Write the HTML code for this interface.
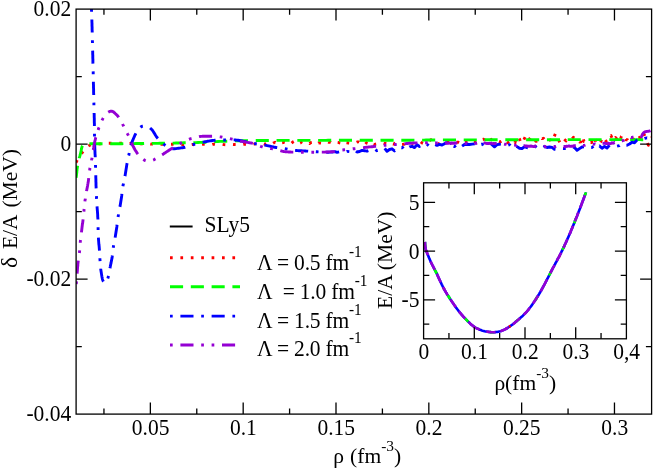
<!DOCTYPE html>
<html><head><meta charset="utf-8"><title>plot</title>
<style>
html,body{margin:0;padding:0;background:#fff;}
svg{display:block;}
text{font-family:"Liberation Serif",serif;font-size:21.5px;fill:#000;}
.c{fill:none;stroke-width:2.9;stroke-linejoin:round;}
.i{stroke-width:2.6;}
</style></head><body>
<svg width="654" height="470" viewBox="0 0 654 470">
<rect width="654" height="470" fill="#fff"/>
<defs><clipPath id="cp"><rect x="76.1" y="9.1" width="575.5" height="405.0"/></clipPath></defs>
<g clip-path="url(#cp)">
<path class="c" stroke="#ff0000" stroke-dasharray="2.7 7.7" d="M76.1,162.5 L76.4,161.9 L76.7,161.3 L77.0,160.6 L77.3,160.0 L77.6,159.5 L78.0,158.9 L78.3,158.3 L78.7,157.7 L79.1,157.1 L79.4,156.6 L79.8,156.0 L80.2,155.5 L80.6,154.9 L81.0,154.4 L81.4,153.8 L81.8,153.3 L82.2,152.7 L82.6,152.2 L83.0,151.6 L83.4,151.1 L83.8,150.5 L84.2,150.0 L84.7,149.5 L85.1,148.9 L85.6,148.4 L86.0,147.9 L86.5,147.5 L87.0,147.0 L87.6,146.6 L88.1,146.2 L88.7,145.8 L89.3,145.5 L89.9,145.2 L90.5,145.0 L91.2,144.8 L91.9,144.7 L92.6,144.6 L93.3,144.6 L94.0,144.7 L95.0,144.6 L96.5,144.4 L98.0,144.2 L99.5,143.9 L101.0,143.7 L102.5,143.4 L104.0,143.1 L105.5,143.1 L107.0,143.2 L108.5,143.2 L110.0,143.2 L111.5,143.2 L113.0,143.2 L114.5,143.3 L116.0,143.1 L117.5,143.1 L119.0,143.1 L120.5,143.2 L122.0,143.3 L123.5,143.3 L125.0,143.5 L126.5,143.4 L128.0,143.4 L129.5,143.4 L131.0,143.3 L132.5,143.4 L134.0,143.5 L135.5,143.4 L137.0,143.7 L138.5,143.6 L140.0,143.7 L141.5,143.8 L143.0,144.0 L144.5,144.0 L146.0,143.8 L147.5,143.7 L149.0,143.9 L150.5,144.1 L152.0,144.0 L153.5,144.0 L155.0,144.0 L156.5,143.8 L158.0,143.9 L159.5,144.0 L161.0,144.2 L162.5,144.2 L164.0,144.1 L165.5,144.2 L167.0,144.2 L168.5,144.3 L170.0,144.3 L171.5,144.3 L173.0,144.3 L174.5,144.5 L176.0,144.5 L177.5,144.5 L179.0,144.5 L180.5,144.4 L182.0,144.5 L183.5,144.5 L185.0,144.5 L186.5,144.4 L188.0,144.4 L189.5,144.7 L191.0,144.8 L192.5,144.5 L194.0,144.5 L195.5,144.5 L197.0,144.6 L198.5,144.6 L200.0,144.5 L201.5,144.1 L203.0,144.2 L204.5,144.3 L206.0,144.4 L207.5,144.3 L209.0,144.4 L210.5,144.7 L212.0,144.7 L213.5,144.1 L215.0,144.3 L216.5,144.5 L218.0,144.5 L219.5,144.4 L221.0,144.2 L222.5,144.3 L224.0,144.6 L225.5,144.7 L227.0,144.5 L228.5,144.4 L230.0,144.4 L231.5,144.5 L233.0,144.6 L234.5,144.5 L236.0,144.4 L237.5,144.4 L239.0,144.3 L240.5,144.7 L242.0,144.7 L243.5,144.3 L245.0,144.4 L246.5,144.4 L248.0,144.8 L249.5,144.9 L251.0,144.6 L252.5,144.7 L254.0,144.2 L255.5,143.9 L257.0,143.8 L258.5,143.8 L260.0,143.8 L261.5,143.7 L263.0,143.5 L264.5,144.0 L266.0,144.0 L267.5,142.9 L269.0,142.5 L270.5,143.6 L272.0,144.0 L273.5,143.0 L275.0,142.3 L276.5,143.3 L278.0,143.7 L279.5,142.2 L281.0,142.9 L282.5,142.7 L284.0,142.4 L285.5,142.8 L287.0,142.2 L288.5,143.2 L290.0,144.0 L291.5,143.2 L293.0,141.9 L294.5,141.1 L296.0,141.1 L297.5,141.6 L299.0,143.6 L300.5,142.9 L302.0,141.7 L303.5,141.4 L305.0,141.7 L306.5,142.1 L308.0,142.3 L309.5,143.6 L311.0,142.5 L312.5,142.2 L314.0,143.3 L315.5,144.4 L317.0,144.1 L318.5,142.9 L320.0,143.0 L321.5,143.2 L323.0,143.4 L324.5,143.0 L326.0,141.9 L327.5,141.7 L329.0,142.4 L330.5,142.4 L332.0,143.6 L333.5,143.0 L335.0,142.0 L336.5,142.2 L338.0,142.4 L339.5,142.9 L341.0,143.2 L342.5,141.5 L344.0,141.1 L345.5,142.6 L347.0,142.8 L348.5,143.0 L350.0,143.2 L351.5,143.0 L353.0,143.2 L354.5,142.4 L356.0,142.5 L357.5,141.9 L359.0,141.9 L360.5,143.2 L362.0,142.9 L363.5,141.2 L365.0,141.5 L366.5,143.1 L368.0,143.6 L369.5,142.5 L371.0,142.1 L372.5,142.3 L374.0,144.6 L375.5,144.1 L377.0,143.8 L378.5,143.8 L380.0,143.9 L381.5,143.5 L383.0,142.9 L384.5,143.4 L386.0,143.4 L387.5,143.7 L389.0,142.4 L390.5,142.4 L392.0,143.5 L393.5,144.1 L395.0,143.1 L396.5,142.2 L398.0,142.4 L399.5,142.9 L401.0,144.5 L402.5,144.4 L404.0,144.2 L405.5,143.2 L407.0,142.7 L408.5,144.1 L410.0,144.7 L411.5,143.7 L413.0,143.2 L414.5,143.5 L416.0,142.9 L417.5,143.0 L419.0,141.9 L420.5,141.6 L422.0,142.9 L423.5,143.6 L425.0,144.3 L426.5,142.8 L428.0,142.0 L429.5,140.7 L431.0,139.6 L432.5,140.1 L434.0,141.8 L435.5,141.6 L437.0,143.5 L438.5,144.0 L440.0,143.0 L441.5,143.9 L443.0,143.3 L444.5,143.3 L446.0,142.6 L447.5,142.7 L449.0,141.6 L450.5,142.2 L452.0,141.6 L453.5,141.9 L455.0,142.6 L456.5,142.3 L458.0,142.1 L459.5,142.9 L461.0,142.5 L462.5,140.7 L464.0,142.1 L465.5,142.4 L467.0,141.2 L468.5,141.3 L470.0,140.7 L471.5,142.7 L473.0,141.8 L474.5,141.8 L476.0,142.9 L477.5,142.0 L479.0,141.6 L480.5,140.0 L482.0,139.5 L483.5,139.1 L485.0,140.1 L486.5,142.7 L488.0,142.4 L489.5,142.1 L491.0,139.6 L492.5,139.0 L494.0,140.2 L495.5,141.9 L497.0,141.9 L498.5,141.5 L500.0,141.9 L501.5,141.1 L503.0,141.6 L504.5,142.9 L506.0,140.7 L507.5,141.9 L509.0,144.0 L510.5,142.5 L512.0,141.8 L513.5,141.4 L515.0,142.7 L516.5,136.8 L518.0,136.2 L519.5,138.9 L521.0,143.6 L522.5,142.4 L524.0,139.5 L525.5,136.3 L527.0,140.6 L528.5,140.6 L530.0,138.2 L531.5,136.2 L533.0,137.4 L534.5,140.4 L536.0,141.4 L537.5,140.8 L539.0,139.0 L540.5,136.7 L542.0,138.6 L543.5,138.3 L545.0,140.1 L546.5,140.9 L548.0,138.6 L549.5,138.4 L551.0,142.0 L552.5,141.4 L554.0,137.1 L555.5,133.5 L557.0,138.5 L558.5,139.8 L560.0,142.6 L561.5,139.2 L563.0,138.1 L564.5,139.5 L566.0,140.9 L567.5,138.3 L569.0,138.5 L570.5,138.4 L572.0,139.0 L573.5,137.3 L575.0,139.5 L576.5,139.2 L578.0,139.7 L579.5,142.0 L581.0,141.8 L582.5,136.3 L584.0,141.5 L585.5,141.8 L587.0,140.9 L588.5,143.1 L590.0,142.5 L591.5,142.6 L593.0,139.1 L594.5,136.5 L596.0,143.7 L597.5,144.8 L599.0,143.6 L600.5,142.1 L602.0,138.7 L603.5,136.6 L605.0,139.7 L606.5,141.8 L608.0,136.7 L609.5,136.2 L611.0,135.5 L612.5,139.5 L614.0,141.1 L615.5,137.6 L617.0,139.2 L618.5,142.6 L620.0,139.9 L621.5,136.2 L623.0,134.7 L624.5,135.2 L626.0,139.7 L627.5,139.7 L629.0,142.5 L630.5,142.3 L632.0,138.9 L633.5,139.0 L635.0,141.6 L636.5,141.3 L638.0,139.7 L639.5,137.4 L641.0,140.4 L642.5,137.3 L644.0,134.1 L645.5,137.6 L647.0,142.5 L648.5,145.2 L650.0,140.2 L651.5,137.2"/>
<path class="c" stroke="#00ff00" stroke-dasharray="13.1 7.7" stroke-dashoffset="1" d="M76.1,177.8 L76.2,177.1 L76.3,176.5 L76.4,175.8 L76.5,175.1 L76.5,174.4 L76.6,173.8 L76.7,173.1 L76.8,172.4 L76.8,171.8 L76.9,171.1 L77.0,170.4 L77.0,169.7 L77.1,169.1 L77.2,168.4 L77.3,167.7 L77.4,167.1 L77.5,166.4 L77.6,165.7 L77.7,165.1 L77.8,164.4 L77.9,163.7 L78.1,163.1 L78.2,162.4 L78.3,161.7 L78.5,161.1 L78.7,160.4 L78.8,159.8 L79.0,159.1 L79.2,158.5 L79.3,157.8 L79.5,157.2 L79.7,156.5 L79.9,155.9 L80.1,155.2 L80.2,154.6 L80.4,153.9 L80.6,153.3 L80.7,152.6 L80.9,152.0 L81.0,151.3 L81.2,150.6 L81.3,149.9 L81.4,149.2 L81.6,148.5 L81.7,147.9 L81.9,147.2 L82.1,146.6 L82.4,146.0 L82.8,145.4 L83.2,144.9 L83.7,144.5 L84.3,144.1 L84.9,143.8 L85.6,143.6 L86.3,143.4 L87.0,143.4 L87.7,143.4 L88.3,143.5 L89.0,143.8 L90.0,143.8 L92.0,143.8 L94.0,143.8 L96.0,143.8 L98.0,143.8 L100.0,143.8 L102.0,143.8 L104.0,143.8 L106.0,143.7 L108.0,143.7 L110.0,143.7 L112.0,143.7 L114.0,143.7 L116.0,143.7 L118.0,143.7 L120.0,143.7 L122.0,143.7 L124.0,143.6 L126.0,143.6 L128.0,143.6 L130.0,143.6 L132.0,143.6 L134.0,143.6 L136.0,143.5 L138.0,143.5 L140.0,143.5 L142.0,143.5 L144.0,143.5 L146.0,143.4 L148.0,143.4 L150.0,143.4 L152.0,143.4 L154.0,143.4 L156.0,143.4 L158.0,143.4 L160.0,143.3 L162.0,143.3 L164.0,143.3 L166.0,143.3 L168.0,143.2 L170.0,143.2 L172.0,143.1 L174.0,143.1 L176.0,143.0 L178.0,143.0 L180.0,142.9 L182.0,142.9 L184.0,142.8 L186.0,142.8 L188.0,142.7 L190.0,142.7 L192.0,142.7 L194.0,142.6 L196.0,142.6 L198.0,142.5 L200.0,142.4 L202.0,142.4 L204.0,142.3 L206.0,142.2 L208.0,142.1 L210.0,142.0 L212.0,141.8 L214.0,141.7 L216.0,141.6 L218.0,141.5 L220.0,141.4 L222.0,141.4 L224.0,141.3 L226.0,141.2 L228.0,141.1 L230.0,141.0 L232.0,140.9 L234.0,140.9 L236.0,140.8 L238.0,140.7 L240.0,140.7 L242.0,140.7 L244.0,140.6 L246.0,140.6 L248.0,140.6 L250.0,140.6 L252.0,140.6 L254.0,140.5 L256.0,140.5 L258.0,140.5 L260.0,140.5 L262.0,140.5 L264.0,140.5 L266.0,140.5 L268.0,140.5 L270.0,140.5 L272.0,140.5 L274.0,140.5 L276.0,140.4 L278.0,140.4 L280.0,140.4 L282.0,140.4 L284.0,140.4 L286.0,140.4 L288.0,140.4 L290.0,140.4 L292.0,140.4 L294.0,140.4 L296.0,140.4 L298.0,140.4 L300.0,140.4 L302.0,140.4 L304.0,140.4 L306.0,140.4 L308.0,140.4 L310.0,140.4 L312.0,140.4 L314.0,140.4 L316.0,140.4 L318.0,140.4 L320.0,140.4 L322.0,140.4 L324.0,140.4 L326.0,140.4 L328.0,140.3 L330.0,140.3 L332.0,140.3 L334.0,140.3 L336.0,140.3 L338.0,140.3 L340.0,140.3 L342.0,140.3 L344.0,140.3 L346.0,140.3 L348.0,140.3 L350.0,140.3 L352.0,140.3 L354.0,140.3 L356.0,140.3 L358.0,140.3 L360.0,140.3 L362.0,140.3 L364.0,140.3 L366.0,140.3 L368.0,140.3 L370.0,140.3 L372.0,140.3 L374.0,140.3 L376.0,140.3 L378.0,140.3 L380.0,140.3 L382.0,140.2 L384.0,140.2 L386.0,140.2 L388.0,140.2 L390.0,140.2 L392.0,140.2 L394.0,140.2 L396.0,140.2 L398.0,140.2 L400.0,140.2 L402.0,140.2 L404.0,140.2 L406.0,140.2 L408.0,140.2 L410.0,140.2 L412.0,140.1 L414.0,140.1 L416.0,140.1 L418.0,140.1 L420.0,140.1 L422.0,140.1 L424.0,140.1 L426.0,140.0 L428.0,140.0 L430.0,140.0 L432.0,140.0 L434.0,140.0 L436.0,140.0 L438.0,140.0 L440.0,139.9 L442.0,139.9 L444.0,139.9 L446.0,139.9 L448.0,139.9 L450.0,139.9 L452.0,139.9 L454.0,139.9 L456.0,139.9 L458.0,139.9 L460.0,139.9 L462.0,139.9 L464.0,139.9 L466.0,139.9 L468.0,139.9 L470.0,139.9 L472.0,139.9 L474.0,139.9 L476.0,139.9 L478.0,139.9 L480.0,139.9 L482.0,139.8 L484.0,139.8 L486.0,139.8 L488.0,139.8 L490.0,139.8 L492.0,139.8 L494.0,139.8 L496.0,139.8 L498.0,139.8 L500.0,139.8 L502.0,139.8 L504.0,139.8 L506.0,139.8 L508.0,139.8 L510.0,139.8 L512.0,139.8 L514.0,139.8 L516.0,139.8 L518.0,139.8 L520.0,139.8 L522.0,139.8 L524.0,139.8 L526.0,139.8 L528.0,139.8 L530.0,139.8 L532.0,139.8 L534.0,139.8 L536.0,139.7 L538.0,139.7 L540.0,139.7 L542.0,139.7 L544.0,139.7 L546.0,139.7 L548.0,139.7 L550.0,139.7 L552.0,139.7 L554.0,139.7 L556.0,139.7 L558.0,139.7 L560.0,139.6 L562.0,139.6 L564.0,139.6 L566.0,139.6 L568.0,139.6 L570.0,139.6 L572.0,139.6 L574.0,139.6 L576.0,139.6 L578.0,139.6 L580.0,139.6 L582.0,139.6 L584.0,139.6 L586.0,139.6 L588.0,139.6 L590.0,139.6 L592.0,139.6 L594.0,139.6 L596.0,139.6 L598.0,139.6 L600.0,139.6 L602.0,139.6 L604.0,139.6 L606.0,139.6 L608.0,139.6 L610.0,139.6 L612.0,139.6 L614.0,139.6 L616.0,139.6 L618.0,139.6 L620.0,139.6 L622.0,139.6 L624.0,139.6 L626.0,139.6 L628.0,139.6 L630.0,139.6 L632.0,139.6 L634.0,139.6 L636.0,139.6 L638.0,139.6 L640.0,139.6 L642.0,139.7 L644.0,139.7 L646.0,139.7 L648.0,139.7 L650.0,139.7"/>
<path class="c" stroke="#0000ff" stroke-dasharray="2.7 7.7 13.1 7.7" d="M91.5,9.1 L91.5,10.4 L91.6,11.7 L91.6,13.0 L91.7,14.2 L91.7,15.5 L91.8,16.8 L91.8,18.1 L91.8,19.4 L91.9,20.7 L91.9,22.0 L92.0,23.3 L92.0,24.5 L92.0,25.8 L92.1,27.1 L92.1,28.4 L92.1,29.7 L92.2,31.0 L92.2,32.3 L92.2,33.6 L92.3,34.8 L92.3,36.1 L92.3,37.4 L92.4,38.7 L92.4,40.0 L92.4,41.3 L92.5,42.6 L92.5,43.8 L92.5,45.1 L92.5,46.4 L92.6,47.7 L92.6,49.0 L92.6,50.3 L92.7,51.6 L92.7,52.9 L92.7,54.1 L92.8,55.4 L92.8,56.7 L92.8,58.0 L92.9,59.3 L92.9,60.6 L92.9,61.9 L92.9,63.2 L93.0,64.4 L93.0,65.7 L93.0,67.0 L93.1,68.3 L93.1,69.6 L93.1,70.9 L93.2,72.2 L93.2,73.4 L93.2,74.7 L93.3,76.0 L93.3,77.3 L93.3,78.6 L93.4,79.9 L93.4,81.2 L93.4,82.5 L93.4,83.7 L93.5,85.0 L93.5,86.3 L93.5,87.6 L93.6,88.9 L93.6,90.2 L93.6,91.5 L93.6,92.8 L93.7,94.0 L93.7,95.3 L93.7,96.6 L93.8,97.9 L93.8,99.2 L93.8,100.5 L93.8,101.8 L93.9,103.1 L93.9,104.3 L93.9,105.6 L94.0,106.9 L94.0,108.2 L94.0,109.5 L94.1,110.8 L94.1,112.1 L94.1,113.3 L94.2,114.6 L94.2,115.9 L94.2,117.2 L94.3,118.5 L94.3,119.8 L94.3,121.1 L94.3,122.4 L94.4,123.6 L94.4,124.9 L94.4,126.2 L94.4,127.5 L94.4,128.8 L94.5,130.1 L94.5,131.4 L94.5,132.7 L94.5,133.9 L94.5,135.2 L94.5,136.5 L94.6,137.8 L94.6,139.1 L94.6,140.4 L94.6,141.7 L94.7,143.0 L94.7,144.2 L94.7,145.5 L94.8,146.8 L94.8,148.1 L94.9,149.4 L94.9,150.7 L95.0,152.0 L95.0,153.2 L95.1,154.5 L95.2,155.8 L95.2,157.1 L95.3,158.4 L95.3,159.7 L95.3,161.0 L95.4,162.3 L95.4,163.5 L95.5,164.8 L95.5,166.1 L95.6,167.4 L95.6,168.7 L95.6,170.0 L95.7,171.3 L95.7,172.5 L95.7,173.8 L95.8,175.1 L95.8,176.4 L95.8,177.7 L95.9,179.0 L95.9,180.3 L95.9,181.6 L96.0,182.8 L96.0,184.1 L96.0,185.4 L96.1,186.7 L96.1,188.0 L96.2,189.3 L96.2,190.6 L96.2,191.9 L96.3,193.1 L96.4,194.4 L96.4,195.7 L96.5,197.0 L96.5,198.3 L96.6,199.6 L96.7,200.9 L96.8,202.1 L96.9,203.4 L96.9,204.7 L97.0,206.0 L97.1,207.3 L97.2,208.6 L97.3,209.8 L97.4,211.1 L97.5,212.4 L97.6,213.7 L97.7,215.0 L97.7,216.3 L97.8,217.6 L97.9,218.8 L97.9,220.1 L98.0,221.4 L98.0,222.7 L98.0,224.0 L98.0,225.3 L98.1,226.6 L98.1,227.8 L98.1,229.1 L98.1,230.4 L98.2,231.7 L98.2,233.0 L98.2,234.3 L98.3,235.6 L98.3,236.9 L98.4,238.1 L98.5,239.4 L98.6,240.7 L98.7,242.0 L98.8,243.3 L98.9,244.6 L99.1,245.8 L99.2,247.1 L99.3,248.4 L99.4,249.7 L99.5,251.0 L99.6,252.3 L99.7,253.5 L99.7,254.8 L99.8,256.1 L99.9,257.4 L99.9,258.7 L100.0,260.0 L100.1,261.2 L100.2,262.5 L100.2,263.8 L100.4,265.1 L100.5,266.4 L100.6,267.7 L100.7,268.9 L100.9,270.2 L101.1,271.5 L101.3,272.8 L101.5,274.1 L101.7,275.4 L101.9,276.6 L102.2,277.9 L102.4,279.1 L102.8,280.3 L103.3,281.5 L104.2,282.7 L105.2,282.9 L106.2,282.0 L106.9,280.7 L107.5,279.5 L107.8,278.4 L108.2,277.2 L108.4,276.0 L108.7,274.7 L109.0,273.5 L109.2,272.2 L109.4,270.9 L109.7,269.6 L109.9,268.3 L110.2,267.0 L110.4,265.8 L110.7,264.5 L111.0,263.2 L111.2,262.0 L111.5,260.7 L111.7,259.5 L112.0,258.2 L112.2,256.9 L112.3,255.7 L112.5,254.4 L112.7,253.1 L112.8,251.8 L112.9,250.6 L113.1,249.3 L113.2,248.0 L113.4,246.7 L113.6,245.4 L113.8,244.2 L114.1,242.9 L114.3,241.7 L114.6,240.4 L114.8,239.1 L115.1,237.9 L115.3,236.6 L115.5,235.3 L115.7,234.1 L115.9,232.8 L116.1,231.5 L116.3,230.2 L116.5,229.0 L116.7,227.7 L116.9,226.4 L117.0,225.1 L117.2,223.9 L117.3,222.6 L117.5,221.3 L117.7,220.0 L117.8,218.8 L118.0,217.5 L118.2,216.2 L118.4,214.9 L118.6,213.7 L118.9,212.4 L119.1,211.1 L119.4,209.9 L119.6,208.6 L119.8,207.3 L120.1,206.1 L120.3,204.8 L120.5,203.5 L120.7,202.3 L120.9,201.0 L121.1,199.7 L121.3,198.5 L121.5,197.2 L121.7,195.9 L121.8,194.6 L122.0,193.3 L122.2,192.1 L122.3,190.8 L122.5,189.5 L122.6,188.2 L122.8,187.0 L123.0,185.7 L123.3,184.4 L123.5,183.2 L123.8,181.9 L124.0,180.6 L124.3,179.4 L124.6,178.1 L124.8,176.9 L125.1,175.6 L125.3,174.3 L125.5,173.1 L125.7,171.8 L125.9,170.5 L126.1,169.2 L126.3,168.0 L126.5,166.7 L126.7,165.4 L126.9,164.2 L127.2,162.9 L127.4,161.6 L127.7,160.4 L127.9,159.1 L128.2,157.9 L128.5,156.6 L128.8,155.3 L129.0,154.1 L129.3,152.8 L129.5,151.5 L129.8,150.3 L130.1,149.0 L130.3,147.8 L130.7,146.5 L131.0,145.3 L131.4,144.0 L131.8,142.8 L132.2,141.6 L132.7,140.4 L133.2,139.2 L133.7,138.0 L134.2,136.9 L134.7,135.7 L135.3,134.5 L135.9,133.4 L136.4,132.2 L137.1,131.1 L137.8,130.0 L138.5,129.0 L139.4,128.0 L140.4,127.2 L141.5,126.5 L142.7,126.1 L144.0,126.0 L145.3,126.1 L146.6,126.4 L147.8,126.9 L149.0,127.4 L150.1,128.0 L151.0,128.8 L151.9,129.7 L152.7,130.7 L153.4,131.8 L154.1,132.9 L154.8,134.0 L155.5,135.2 L156.2,136.3 L157.0,137.4 L157.7,138.4 L158.6,139.4 L159.5,140.4 L160.4,141.2 L161.4,142.1 L162.3,143.0 L163.3,143.8 L164.3,144.7 L165.2,145.5 L166.2,146.3 L167.3,147.1 L168.4,147.7 L169.6,148.2 L170.9,148.5 L172.2,148.7 L173.4,148.7 L174.7,148.7 L176.0,148.6 L177.3,148.4 L178.6,148.2 L179.9,148.1 L181.1,147.9 L182.4,147.7 L183.7,147.5 L184.9,147.3 L186.2,146.9 L187.4,146.6 L188.6,146.2 L189.9,145.8 L191.1,145.3 L192.3,144.9 L193.5,144.5 L194.7,144.1 L196.0,143.7 L197.2,143.4 L198.5,143.1 L199.7,142.8 L201.0,142.6 L202.3,142.3 L203.5,142.1 L204.8,141.8 L206.1,141.6 L207.3,141.3 L208.6,141.1 L209.9,140.9 L211.1,140.7 L212.4,140.5 L213.7,140.4 L215.0,140.3 L216.2,140.2 L217.5,140.1 L218.8,140.1 L220.1,140.0 L221.4,140.0 L222.7,140.0 L224.0,140.0 L225.3,140.0 L226.5,140.0 L227.8,139.9 L229.1,139.9 L230.4,139.9 L231.7,139.8 L233.0,139.9 L234.3,139.9 L235.5,140.0 L236.8,140.1 L238.1,140.3 L239.4,140.5 L240.6,140.7 L241.9,140.9 L243.2,141.2 L244.5,141.4 L245.7,141.7 L247.0,142.0 L248.2,142.3 L249.5,142.6 L250.7,142.8 L252.0,143.1 L253.3,143.4 L254.5,143.6 L255.8,143.8 L257.1,144.0 L258.3,144.2 L259.6,144.4 L260.9,144.5 L262.2,144.7 L263.4,144.9 L264.7,145.1 L266.0,145.4 L267.2,145.6 L268.5,145.9 L269.8,146.2 L271.0,146.5 L272.3,146.8 L273.5,147.0 L274.8,147.3 L276.1,147.5 L277.3,147.7 L278.6,147.9 L279.9,148.0 L281.2,148.2 L282.4,148.3 L283.7,148.5 L285.0,148.7 L286.3,148.9 L287.5,149.1 L288.8,149.4 L290.1,149.6 L291.3,149.8 L292.6,150.0 L293.9,150.2 L295.1,150.4 L296.4,150.5 L297.7,150.6 L299.0,150.7 L300.3,150.8 L301.6,150.8 L302.8,150.9 L304.1,150.9 L305.4,151.0 L306.7,151.1 L308.0,151.1 L309.3,151.2 L310.6,151.3 L311.9,151.4 L313.1,151.5 L314.4,151.6 L315.7,151.7 L317.0,151.8 L318.3,151.9 L319.6,152.0 L320.8,152.0 L322.1,152.1 L323.4,152.2 L324.7,152.2 L326.0,152.2 L327.3,152.2 L328.5,152.2 L329.8,152.1 L331.1,152.1 L332.4,152.0 L333.7,151.9 L335.0,151.7 L337.0,152.4 L339.5,151.8 L342.0,152.1 L344.5,152.3 L347.0,151.4 L349.5,151.7 L352.0,151.4 L354.5,149.8 L357.0,152.0 L359.5,151.5 L362.0,150.4 L364.5,150.7 L367.0,151.2 L369.5,150.3 L372.0,150.2 L374.5,148.9 L377.0,150.7 L379.5,150.2 L382.0,150.1 L384.5,148.2 L387.0,151.2 L389.5,149.5 L392.0,148.8 L394.5,150.9 L397.0,148.7 L399.5,147.2 L402.0,147.9 L404.5,145.8 L407.0,148.6 L409.5,146.9 L412.0,146.3 L414.5,147.6 L417.0,144.8 L419.5,146.5 L422.0,143.9 L424.5,145.0 L427.0,144.2 L429.5,146.5 L432.0,146.5 L434.5,144.4 L437.0,145.4 L439.5,144.3 L442.0,145.0 L444.5,143.7 L447.0,142.7 L449.5,142.6 L452.0,144.7 L454.5,146.6 L457.0,144.6 L459.5,143.7 L462.0,146.2 L464.5,144.5 L467.0,144.3 L469.5,144.5 L472.0,144.1 L474.5,143.9 L477.0,142.7 L479.5,144.7 L482.0,144.1 L484.5,145.6 L487.0,144.0 L489.5,142.4 L492.0,144.6 L494.5,146.8 L497.0,144.6 L499.5,144.2 L502.0,144.1 L504.5,144.4 L507.0,145.5 L509.5,144.6 L512.0,147.9 L514.5,145.9 L517.0,146.6 L519.5,148.3 L522.0,148.6 L524.5,146.7 L527.0,147.5 L529.5,148.1 L532.0,147.1 L534.5,145.3 L537.0,148.3 L539.5,148.7 L542.0,148.1 L544.5,146.6 L547.0,147.5 L549.5,147.0 L552.0,147.4 L554.5,149.3 L557.0,149.6 L559.5,148.6 L562.0,148.5 L564.5,148.6 L567.0,147.7 L569.5,147.6 L572.0,146.9 L574.5,147.6 L577.0,150.3 L579.5,148.6 L582.0,147.0 L584.5,146.8 L587.0,146.2 L589.5,147.6 L592.0,147.5 L594.5,145.2 L597.0,147.4 L599.5,145.9 L602.0,148.2 L604.5,146.4 L607.0,147.9 L609.5,145.2 L612.0,145.1 L614.5,145.6 L617.0,146.2 L619.5,145.6 L622.0,143.8 L624.5,145.3 L627.0,145.2 L629.5,144.0 L632.0,142.2 L634.5,142.8 L637.0,140.0 L639.5,138.9 L642.0,139.5 L644.5,138.4 L647.0,137.8 L649.5,138.2"/>
<path class="c" stroke="#9400d3" stroke-dasharray="2.7 7.7 13.1 7.7 2.7 7.7" d="M76.2,284.0 L76.3,283.2 L76.4,282.3 L76.5,281.5 L76.6,280.6 L76.7,279.8 L76.7,279.0 L76.8,278.1 L76.9,277.3 L76.9,276.4 L77.0,275.6 L77.1,274.7 L77.1,273.9 L77.2,273.0 L77.2,272.2 L77.3,271.4 L77.4,270.5 L77.4,269.7 L77.5,268.8 L77.5,268.0 L77.6,267.1 L77.7,266.3 L77.8,265.5 L77.8,264.6 L77.9,263.8 L78.0,262.9 L78.1,262.1 L78.2,261.3 L78.3,260.4 L78.4,259.6 L78.5,258.7 L78.7,257.9 L78.8,257.1 L78.9,256.2 L79.0,255.4 L79.2,254.6 L79.3,253.7 L79.4,252.9 L79.5,252.0 L79.6,251.2 L79.7,250.4 L79.8,249.5 L79.8,248.7 L79.9,247.8 L80.0,247.0 L80.0,246.1 L80.1,245.3 L80.2,244.5 L80.2,243.6 L80.3,242.8 L80.3,241.9 L80.4,241.1 L80.5,240.2 L80.6,239.4 L80.7,238.6 L80.8,237.7 L80.9,236.9 L81.0,236.0 L81.1,235.2 L81.2,234.4 L81.3,233.5 L81.4,232.7 L81.5,231.8 L81.6,231.0 L81.7,230.2 L81.8,229.3 L81.9,228.5 L82.0,227.6 L82.1,226.8 L82.2,226.0 L82.3,225.1 L82.4,224.3 L82.6,223.4 L82.7,222.6 L82.8,221.8 L82.9,220.9 L83.0,220.1 L83.1,219.2 L83.2,218.4 L83.3,217.6 L83.3,216.7 L83.4,215.9 L83.5,215.0 L83.6,214.2 L83.7,213.4 L83.8,212.5 L83.9,211.7 L84.0,210.8 L84.0,210.0 L84.1,209.2 L84.2,208.3 L84.3,207.5 L84.4,206.6 L84.5,205.8 L84.6,204.9 L84.6,204.1 L84.7,203.3 L84.8,202.4 L84.9,201.6 L85.0,200.7 L85.1,199.9 L85.3,199.1 L85.4,198.2 L85.5,197.4 L85.6,196.6 L85.8,195.7 L85.9,194.9 L86.0,194.1 L86.2,193.2 L86.3,192.4 L86.5,191.6 L86.6,190.7 L86.8,189.9 L86.9,189.1 L87.1,188.2 L87.3,187.4 L87.4,186.6 L87.6,185.7 L87.7,184.9 L87.8,184.1 L88.0,183.2 L88.1,182.4 L88.3,181.6 L88.4,180.7 L88.5,179.9 L88.6,179.0 L88.7,178.2 L88.8,177.4 L88.9,176.5 L89.0,175.7 L89.1,174.8 L89.2,174.0 L89.3,173.2 L89.4,172.3 L89.5,171.5 L89.6,170.6 L89.7,169.8 L89.8,169.0 L89.9,168.1 L90.1,167.3 L90.2,166.5 L90.4,165.6 L90.6,164.8 L90.8,164.0 L90.9,163.2 L91.1,162.3 L91.3,161.5 L91.5,160.7 L91.6,159.8 L91.8,159.0 L92.0,158.2 L92.1,157.4 L92.2,156.5 L92.4,155.7 L92.5,154.8 L92.6,154.0 L92.8,153.2 L92.9,152.3 L93.0,151.5 L93.1,150.7 L93.3,149.8 L93.4,149.0 L93.5,148.2 L93.7,147.3 L93.8,146.5 L94.0,145.7 L94.1,144.8 L94.3,144.0 L94.4,143.2 L94.6,142.3 L94.8,141.5 L95.0,140.7 L95.2,139.9 L95.4,139.0 L95.6,138.2 L95.8,137.4 L96.1,136.6 L96.3,135.8 L96.5,135.0 L96.8,134.2 L97.0,133.3 L97.3,132.5 L97.5,131.7 L97.8,130.9 L98.1,130.1 L98.4,129.3 L98.6,128.5 L98.9,127.7 L99.2,127.0 L99.5,126.2 L99.8,125.4 L100.1,124.6 L100.5,123.8 L100.8,123.0 L101.1,122.2 L101.5,121.5 L101.8,120.7 L102.2,119.9 L102.6,119.2 L103.0,118.4 L103.4,117.7 L103.8,117.0 L104.3,116.2 L104.8,115.5 L105.3,114.9 L105.8,114.2 L106.4,113.6 L107.0,113.0 L107.7,112.5 L108.4,112.1 L109.2,111.7 L110.0,111.4 L110.8,111.2 L111.7,111.2 L112.4,111.4 L113.2,111.8 L113.9,112.3 L114.6,112.9 L115.2,113.5 L115.9,114.1 L116.5,114.7 L117.1,115.3 L117.7,116.0 L118.2,116.6 L118.7,117.2 L119.2,117.9 L119.7,118.6 L120.2,119.3 L120.6,120.0 L121.0,120.7 L121.4,121.5 L121.8,122.2 L122.1,123.0 L122.5,123.8 L122.8,124.6 L123.2,125.3 L123.6,126.1 L123.9,126.9 L124.3,127.6 L124.7,128.4 L125.1,129.2 L125.5,129.9 L125.9,130.7 L126.2,131.4 L126.6,132.2 L127.0,132.9 L127.4,133.7 L127.8,134.4 L128.2,135.2 L128.5,135.9 L128.9,136.7 L129.2,137.5 L129.6,138.2 L129.9,139.0 L130.2,139.8 L130.6,140.6 L130.9,141.3 L131.2,142.1 L131.6,142.9 L131.9,143.7 L132.3,144.5 L132.6,145.2 L133.0,146.0 L133.4,146.8 L133.8,147.5 L134.2,148.3 L134.6,149.0 L135.0,149.8 L135.4,150.5 L135.9,151.2 L136.4,151.9 L136.8,152.6 L137.3,153.3 L137.8,154.0 L138.3,154.6 L138.9,155.3 L139.4,155.9 L140.0,156.5 L140.6,157.1 L141.2,157.7 L141.9,158.3 L142.5,158.8 L143.2,159.3 L143.9,159.8 L144.6,160.3 L145.4,160.6 L146.2,160.9 L147.0,161.1 L147.9,161.3 L148.7,161.3 L149.6,161.2 L150.4,161.1 L151.3,160.9 L152.1,160.7 L152.8,160.3 L153.6,160.0 L154.3,159.6 L155.1,159.1 L155.8,158.7 L156.5,158.2 L157.3,157.8 L158.0,157.3 L158.7,156.9 L159.4,156.4 L160.1,156.0 L160.9,155.6 L161.6,155.1 L162.3,154.7 L163.0,154.2 L163.7,153.8 L164.4,153.3 L165.1,152.8 L165.8,152.4 L166.5,151.9 L167.2,151.4 L167.9,151.0 L168.6,150.5 L169.3,150.0 L170.1,149.6 L170.8,149.1 L171.5,148.6 L172.2,148.2 L172.9,147.7 L173.6,147.3 L174.3,146.8 L175.0,146.4 L175.8,145.9 L176.5,145.5 L177.2,145.1 L178.0,144.7 L178.7,144.2 L179.4,143.8 L180.2,143.4 L180.9,143.0 L181.7,142.7 L182.5,142.3 L183.2,141.9 L184.0,141.5 L184.7,141.2 L185.5,140.8 L186.3,140.5 L187.1,140.1 L187.8,139.8 L188.6,139.5 L189.4,139.2 L190.2,138.9 L191.0,138.6 L191.8,138.4 L192.6,138.1 L193.4,137.9 L194.3,137.6 L195.1,137.4 L195.9,137.2 L196.7,137.1 L197.6,136.9 L198.4,136.8 L199.2,136.6 L200.1,136.5 L200.9,136.4 L201.8,136.4 L202.6,136.3 L203.4,136.3 L204.3,136.2 L205.1,136.2 L206.0,136.2 L206.8,136.2 L207.7,136.2 L208.5,136.2 L209.4,136.2 L210.2,136.3 L211.1,136.3 L211.9,136.3 L212.8,136.3 L213.6,136.4 L214.4,136.4 L215.3,136.5 L216.1,136.5 L217.0,136.6 L217.8,136.7 L218.7,136.7 L219.5,136.8 L220.3,136.9 L221.2,137.0 L222.0,137.1 L222.9,137.3 L223.7,137.4 L224.5,137.5 L225.4,137.7 L226.2,137.9 L227.0,138.0 L227.8,138.2 L228.7,138.4 L229.5,138.6 L230.3,138.8 L231.1,138.9 L232.0,139.1 L232.8,139.3 L233.6,139.6 L234.4,139.8 L235.3,140.0 L236.1,140.2 L236.9,140.4 L237.7,140.5 L238.5,140.7 L239.4,140.9 L240.2,141.1 L241.0,141.3 L241.9,141.4 L242.7,141.6 L243.5,141.7 L244.4,141.9 L245.2,142.0 L246.0,142.1 L246.9,142.3 L247.7,142.4 L248.6,142.6 L249.4,142.7 L250.2,142.9 L251.0,143.0 L251.9,143.2 L252.7,143.4 L253.5,143.6 L254.3,143.9 L255.1,144.1 L255.9,144.4 L256.7,144.7 L257.5,145.0 L258.3,145.4 L259.1,145.7 L259.9,146.0 L260.6,146.3 L261.4,146.6 L262.2,146.9 L263.0,147.2 L263.8,147.4 L264.7,147.6 L265.5,147.7 L266.3,147.9 L267.2,148.0 L268.0,148.1 L268.8,148.2 L269.7,148.3 L270.5,148.5 L271.4,148.6 L272.2,148.7 L273.0,148.8 L273.9,149.0 L274.7,149.2 L275.5,149.4 L276.3,149.6 L277.1,149.8 L278.0,150.1 L278.8,150.3 L279.6,150.5 L280.4,150.7 L281.2,151.0 L282.1,151.1 L282.9,151.3 L283.7,151.5 L284.5,151.6 L285.4,151.7 L286.2,151.8 L287.1,151.9 L287.9,151.9 L288.7,152.0 L289.6,152.0 L290.4,152.0 L291.3,152.1 L292.1,152.1 L293.0,152.1 L293.8,152.1 L294.7,152.1 L295.5,152.1 L296.4,152.1 L297.2,152.1 L298.1,152.1 L298.9,152.2 L299.8,152.2 L300.6,152.2 L301.5,152.2 L302.3,152.2 L303.2,152.2 L304.0,152.2 L304.8,152.2 L305.7,152.2 L306.5,152.2 L307.4,152.2 L308.2,152.2 L309.1,152.2 L309.9,152.2 L310.8,152.2 L311.6,152.2 L312.5,152.2 L313.3,152.2 L314.1,152.2 L315.0,152.2 L315.8,152.2 L316.7,152.2 L317.5,152.2 L318.4,152.2 L319.2,152.2 L320.1,152.1 L320.9,152.1 L321.8,152.1 L322.6,152.1 L323.4,152.1 L324.3,152.1 L325.1,152.1 L326.0,152.0 L326.8,152.0 L327.7,152.0 L328.5,151.9 L329.4,151.9 L330.2,151.9 L331.1,151.8 L331.9,151.7 L332.8,151.7 L333.6,151.6 L334.4,151.5 L335.3,151.3 L336.1,151.2 L336.9,151.1 L337.8,150.9 L338.6,150.8 L339.4,150.6 L340.3,150.5 L341.1,150.3 L341.9,150.1 L342.8,150.0 L343.6,149.8 L344.4,149.7 L345.3,149.6 L346.1,149.4 L346.9,149.3 L347.8,149.3 L348.6,149.2 L349.5,149.1 L350.3,149.0 L351.1,148.9 L352.0,148.9 L352.8,148.8 L353.7,148.7 L354.5,148.7 L355.4,148.6 L356.2,148.5 L357.0,148.4 L357.9,148.3 L358.7,148.2 L359.6,148.1 L360.4,148.0 L361.2,147.9 L362.1,147.8 L362.9,147.7 L363.8,147.6 L364.6,147.5 L365.4,147.4 L366.3,147.3 L367.1,147.2 L368.0,147.1 L368.8,147.0 L369.6,146.9 L370.5,146.9 L371.3,146.8 L372.2,146.7 L373.0,146.6 L373.9,146.5 L374.7,146.4 L375.5,146.3 L376.4,146.2 L377.2,146.1 L378.1,146.0 L378.9,145.9 L379.7,145.8 L380.6,145.7 L381.4,145.6 L382.3,145.5 L383.1,145.4 L383.9,145.3 L384.8,145.3 L385.6,145.2 L386.5,145.1 L387.3,145.0 L388.1,145.0 L389.0,144.9 L389.8,144.9 L390.7,144.8 L391.5,144.7 L392.4,144.7 L393.2,144.6 L394.1,144.6 L394.9,144.5 L395.7,144.5 L396.6,144.4 L397.4,144.3 L398.3,144.3 L399.1,144.2 L400.0,144.1 L400.8,144.1 L401.6,144.0 L402.5,143.9 L403.3,143.8 L404.2,143.8 L405.0,143.7 L405.9,143.6 L406.7,143.5 L407.5,143.5 L408.4,143.4 L409.2,143.3 L410.1,143.3 L410.9,143.2 L411.8,143.1 L412.6,143.1 L413.4,143.0 L414.3,143.0 L415.1,142.9 L416.0,142.9 L416.8,142.9 L417.7,142.9 L418.5,142.9 L419.4,142.8 L420.2,142.9 L421.1,142.9 L421.9,143.0 L422.7,142.9 L423.6,142.7 L424.4,142.8 L425.3,142.8 L426.1,142.9 L427.0,142.7 L427.8,142.6 L428.7,143.0 L429.5,142.7 L430.4,142.6 L431.2,143.1 L432.1,142.9 L432.9,143.1 L433.7,142.9 L434.6,142.8 L435.4,142.8 L436.3,143.0 L437.1,143.0 L438.0,142.9 L438.8,143.0 L439.7,142.8 L440.5,143.1 L441.4,142.8 L442.2,143.1 L443.0,143.3 L443.9,143.4 L444.7,143.5 L445.6,142.8 L446.4,143.3 L447.3,143.4 L448.1,143.4 L449.0,143.0 L449.8,143.2 L450.7,143.5 L451.5,142.9 L452.4,143.3 L453.2,143.4 L454.0,143.0 L454.9,143.3 L455.7,143.0 L456.6,143.0 L457.4,143.0 L458.3,143.2 L459.1,143.2 L460.0,143.4 L460.8,143.0 L461.7,143.2 L462.5,143.4 L463.3,143.3 L464.2,143.0 L465.0,143.4 L465.9,143.1 L466.7,143.3 L467.6,143.3 L468.4,143.5 L469.3,143.3 L470.1,142.9 L471.0,143.0 L471.8,143.4 L472.6,143.2 L473.5,143.5 L474.3,143.3 L475.2,143.1 L476.0,143.5 L476.9,143.1 L477.7,142.9 L478.6,143.7 L479.4,142.9 L480.3,143.4 L481.1,143.5 L482.0,143.3 L482.8,143.0 L483.6,143.5 L484.5,143.0 L485.3,143.1 L486.2,143.3 L487.0,143.5 L487.9,143.4 L488.7,143.5 L489.6,143.3 L490.4,143.4 L491.3,143.2 L492.1,143.4 L493.0,143.6 L493.8,143.4 L494.6,143.6 L495.5,143.4 L496.3,143.5 L497.2,143.6 L498.0,143.6 L498.9,143.8 L499.7,143.8 L500.6,144.2 L501.4,143.9 L502.2,143.9 L503.1,143.8 L503.9,144.1 L504.8,144.3 L505.6,144.1 L506.5,144.3 L507.3,144.6 L508.1,144.5 L509.0,144.5 L509.8,144.9 L510.7,144.8 L511.5,144.9 L512.3,145.2 L513.2,145.3 L514.0,145.0 L514.9,145.1 L515.7,145.3 L516.6,145.3 L517.4,145.0 L518.2,145.7 L519.1,145.6 L519.9,145.8 L520.8,145.4 L521.6,146.0 L522.5,145.7 L523.3,145.8 L524.1,145.6 L525.0,145.9 L525.8,146.0 L526.7,146.0 L527.5,146.2 L528.4,146.1 L529.2,146.4 L530.1,146.1 L530.9,146.0 L531.8,146.3 L532.6,146.4 L533.4,146.6 L534.3,146.5 L535.1,146.0 L536.0,146.5 L536.8,146.7 L537.7,146.4 L538.5,146.3 L539.4,146.5 L540.2,146.4 L541.1,146.6 L541.9,146.5 L542.7,146.8 L543.6,146.6 L544.4,146.3 L545.3,146.6 L546.1,146.7 L547.0,146.4 L547.8,146.4 L548.7,146.0 L549.5,146.7 L550.4,146.4 L551.2,146.1 L552.1,146.1 L552.9,146.5 L553.7,146.6 L554.6,146.5 L555.4,146.6 L556.3,146.3 L557.1,146.2 L558.0,146.7 L558.8,146.6 L559.7,146.5 L560.5,146.7 L561.4,146.2 L562.2,146.3 L563.0,146.6 L563.9,146.8 L564.7,146.4 L565.6,146.7 L566.4,146.2 L567.3,146.4 L568.1,146.2 L569.0,145.9 L569.8,146.3 L570.7,146.4 L571.5,146.1 L572.3,146.1 L573.2,146.3 L574.0,145.8 L574.9,145.7 L575.7,145.8 L576.6,145.6 L577.4,146.1 L578.3,145.8 L579.1,145.5 L579.9,145.5 L580.8,146.1 L581.6,145.4 L582.5,145.3 L583.3,145.4 L584.2,145.4 L585.0,145.2 L585.8,144.9 L586.7,144.8 L587.5,145.1 L588.4,144.9 L589.2,144.5 L590.1,144.9 L590.9,144.8 L591.7,144.5 L592.6,144.4 L593.4,144.4 L594.3,144.1 L595.1,143.9 L595.9,144.2 L596.8,143.7 L597.6,144.0 L598.5,143.6 L599.3,143.8 L600.2,143.7 L601.0,144.0 L601.8,143.4 L602.7,143.3 L603.5,143.4 L604.4,143.3 L605.2,143.3 L606.1,143.5 L606.9,143.6 L607.8,143.7 L608.6,143.2 L609.5,143.9 L610.3,143.7 L611.2,143.3 L612.0,142.8 L612.9,143.2 L613.7,143.1 L614.5,142.5 L615.3,142.9 L616.2,142.6 L617.0,142.3 L617.8,142.4 L618.6,142.3 L619.4,141.7 L620.2,141.6 L621.0,141.1 L621.8,140.8 L622.6,140.7 L623.4,140.4 L624.2,139.9 L625.0,139.2 L625.8,139.4 L626.6,138.6 L627.4,138.6 L628.2,138.6 L629.0,138.0 L629.9,137.5 L630.7,137.2 L631.5,137.6 L632.3,137.2 L633.1,137.2 L633.9,137.2 L634.7,137.3 L635.5,137.4 L636.4,137.6 L637.3,137.9 L638.2,138.2 L639.1,138.4 L639.9,138.4 L640.5,138.0 L641.1,137.4 L641.5,136.6 L641.8,135.8 L642.2,135.0 L642.5,134.2 L643.0,133.5 L643.6,132.9 L644.2,132.3 L645.0,131.9 L645.7,131.6 L646.6,131.5 L647.4,131.4 L648.3,131.3 L649.1,131.1 L649.9,130.9 L650.7,130.5 L651.4,130.0"/>
</g>
<!-- inset curves -->
<g>
<path class="c i" stroke="#0000ff" d="M424.9,242.0 L425.0,243.0 L425.0,244.0 L425.1,244.9 L425.2,245.9 L425.3,246.9 L425.4,247.9 L425.6,248.8 L425.9,249.8 L426.2,250.7 L426.5,251.6 L426.9,252.5 L427.3,253.5 L427.7,254.4 L428.0,255.3 L428.4,256.2 L428.7,257.1 L429.1,258.0 L429.5,258.9 L429.9,259.8 L430.3,260.7 L430.7,261.6 L431.1,262.5 L431.5,263.4 L432.0,264.3 L432.4,265.1 L432.9,266.0 L433.3,266.9 L433.8,267.8 L434.2,268.6 L434.7,269.5 L435.1,270.4 L435.6,271.3 L436.0,272.1 L436.4,273.0 L436.9,273.9 L437.3,274.8 L437.7,275.7 L438.1,276.6 L438.5,277.5 L438.9,278.4 L439.3,279.3 L439.7,280.2 L440.2,281.1 L440.6,282.0 L441.0,282.8 L441.4,283.7 L441.8,284.6 L442.3,285.5 L442.7,286.4 L443.1,287.2 L443.6,288.1 L444.1,289.0 L444.5,289.8 L445.0,290.7 L445.5,291.5 L446.0,292.4 L446.5,293.2 L447.0,294.1 L447.5,294.9 L448.1,295.7 L448.6,296.6 L449.1,297.4 L449.7,298.2 L450.2,299.0 L450.8,299.8 L451.3,300.7 L451.9,301.5 L452.4,302.3 L453.0,303.1 L453.5,303.9 L454.1,304.7 L454.6,305.5 L455.2,306.4 L455.8,307.2 L456.3,307.9 L456.9,308.7 L457.5,309.5 L458.1,310.3 L458.7,311.1 L459.3,311.8 L459.9,312.6 L460.6,313.4 L461.2,314.1 L461.8,314.8 L462.5,315.6 L463.1,316.3 L463.8,317.0 L464.5,317.8 L465.2,318.5 L465.8,319.2 L466.5,319.9 L467.2,320.6 L467.9,321.3 L468.6,322.0 L469.3,322.7 L470.0,323.4 L470.7,324.1 L471.5,324.7 L472.2,325.3 L473.0,325.9 L473.8,326.5 L474.6,327.1 L475.4,327.6 L476.3,328.1 L477.2,328.5 L478.1,328.9 L479.0,329.3 L479.9,329.7 L480.8,330.0 L481.7,330.4 L482.7,330.7 L483.6,330.9 L484.6,331.2 L485.6,331.4 L486.5,331.6 L487.5,331.8 L488.5,331.9 L489.4,332.0 L490.4,332.1 L491.4,332.2 L492.4,332.2 L493.4,332.2 L494.4,332.2 L495.3,332.1 L496.3,332.0 L497.3,331.9 L498.3,331.7 L499.2,331.5 L500.2,331.3 L501.1,331.0 L502.1,330.6 L503.0,330.3 L503.9,329.9 L504.8,329.5 L505.6,329.0 L506.5,328.5 L507.4,328.0 L508.2,327.5 L509.0,327.0 L509.8,326.4 L510.6,325.9 L511.4,325.3 L512.2,324.7 L513.0,324.1 L513.8,323.5 L514.5,322.9 L515.3,322.2 L516.0,321.6 L516.8,321.0 L517.5,320.3 L518.3,319.7 L519.0,319.1 L519.8,318.4 L520.5,317.8 L521.3,317.1 L522.0,316.5 L522.7,315.8 L523.4,315.1 L524.1,314.4 L524.8,313.7 L525.5,313.0 L526.1,312.3 L526.8,311.6 L527.4,310.8 L528.1,310.1 L528.7,309.3 L529.3,308.5 L529.9,307.7 L530.5,307.0 L531.1,306.2 L531.7,305.4 L532.2,304.6 L532.8,303.8 L533.4,302.9 L533.9,302.1 L534.5,301.3 L535.0,300.5 L535.5,299.7 L536.1,298.9 L536.6,298.0 L537.1,297.2 L537.7,296.4 L538.2,295.5 L538.7,294.7 L539.2,293.9 L539.7,293.0 L540.2,292.2 L540.7,291.3 L541.2,290.5 L541.6,289.6 L542.1,288.8 L542.6,287.9 L543.1,287.0 L543.5,286.2 L544.0,285.3 L544.5,284.4 L544.9,283.6 L545.4,282.7 L545.8,281.8 L546.3,280.9 L546.7,280.1 L547.2,279.2 L547.6,278.3 L548.1,277.4 L548.5,276.6 L549.0,275.7 L549.4,274.8 L549.9,273.9 L550.3,273.1 L550.8,272.2 L551.2,271.3 L551.7,270.5 L552.1,269.6 L552.6,268.7 L553.0,267.8 L553.5,267.0 L554.0,266.1 L554.4,265.2 L554.9,264.4 L555.4,263.5 L555.8,262.7 L556.3,261.8 L556.8,260.9 L557.2,260.1 L557.7,259.2 L558.1,258.3 L558.6,257.5 L559.1,256.6 L559.5,255.7 L560.0,254.8 L560.4,254.0 L560.9,253.1 L561.3,252.2 L561.7,251.3 L562.2,250.5 L562.6,249.6 L563.0,248.7 L563.5,247.8 L563.9,246.9 L564.3,246.0 L564.7,245.1 L565.1,244.2 L565.5,243.4 L565.9,242.5 L566.3,241.6 L566.7,240.7 L567.1,239.8 L567.5,238.9 L567.9,238.0 L568.3,237.1 L568.7,236.2 L569.1,235.3 L569.5,234.4 L569.9,233.5 L570.3,232.6 L570.7,231.7 L571.0,230.7 L571.4,229.8 L571.8,228.9 L572.2,228.0 L572.6,227.1 L572.9,226.2 L573.3,225.3 L573.7,224.4 L574.0,223.5 L574.4,222.6 L574.8,221.7 L575.1,220.7 L575.5,219.8 L575.9,218.9 L576.2,218.0 L576.6,217.1 L577.0,216.2 L577.3,215.3 L577.7,214.4 L578.0,213.4 L578.4,212.5 L578.7,211.6 L579.1,210.7 L579.5,209.8 L579.8,208.9 L580.2,207.9 L580.5,207.0 L580.9,206.1 L581.2,205.2 L581.6,204.3 L581.9,203.4 L582.2,202.4 L582.6,201.5 L582.9,200.6 L583.3,199.7 L583.6,198.8 L584.0,197.8 L584.3,196.9 L584.6,196.0 L585.0,195.1 L585.3,194.1 L585.7,193.2 L586.0,192.3"/>
<path class="c i" stroke="#00ff00" stroke-dasharray="5 24" stroke-dashoffset="-29" d="M424.9,242.0 L425.0,243.0 L425.0,244.0 L425.1,244.9 L425.2,245.9 L425.3,246.9 L425.4,247.9 L425.6,248.8 L425.9,249.8 L426.2,250.7 L426.5,251.6 L426.9,252.5 L427.3,253.5 L427.7,254.4 L428.0,255.3 L428.4,256.2 L428.7,257.1 L429.1,258.0 L429.5,258.9 L429.9,259.8 L430.3,260.7 L430.7,261.6 L431.1,262.5 L431.5,263.4 L432.0,264.3 L432.4,265.1 L432.9,266.0 L433.3,266.9 L433.8,267.8 L434.2,268.6 L434.7,269.5 L435.1,270.4 L435.6,271.3 L436.0,272.1 L436.4,273.0 L436.9,273.9 L437.3,274.8 L437.7,275.7 L438.1,276.6 L438.5,277.5 L438.9,278.4 L439.3,279.3 L439.7,280.2 L440.2,281.1 L440.6,282.0 L441.0,282.8 L441.4,283.7 L441.8,284.6 L442.3,285.5 L442.7,286.4 L443.1,287.2 L443.6,288.1 L444.1,289.0 L444.5,289.8 L445.0,290.7 L445.5,291.5 L446.0,292.4 L446.5,293.2 L447.0,294.1 L447.5,294.9 L448.1,295.7 L448.6,296.6 L449.1,297.4 L449.7,298.2 L450.2,299.0 L450.8,299.8 L451.3,300.7 L451.9,301.5 L452.4,302.3 L453.0,303.1 L453.5,303.9 L454.1,304.7 L454.6,305.5 L455.2,306.4 L455.8,307.2 L456.3,307.9 L456.9,308.7 L457.5,309.5 L458.1,310.3 L458.7,311.1 L459.3,311.8 L459.9,312.6 L460.6,313.4 L461.2,314.1 L461.8,314.8 L462.5,315.6 L463.1,316.3 L463.8,317.0 L464.5,317.8 L465.2,318.5 L465.8,319.2 L466.5,319.9 L467.2,320.6 L467.9,321.3 L468.6,322.0 L469.3,322.7 L470.0,323.4 L470.7,324.1 L471.5,324.7 L472.2,325.3 L473.0,325.9 L473.8,326.5 L474.6,327.1 L475.4,327.6 L476.3,328.1 L477.2,328.5 L478.1,328.9 L479.0,329.3 L479.9,329.7 L480.8,330.0 L481.7,330.4 L482.7,330.7 L483.6,330.9 L484.6,331.2 L485.6,331.4 L486.5,331.6 L487.5,331.8 L488.5,331.9 L489.4,332.0 L490.4,332.1 L491.4,332.2 L492.4,332.2 L493.4,332.2 L494.4,332.2 L495.3,332.1 L496.3,332.0 L497.3,331.9 L498.3,331.7 L499.2,331.5 L500.2,331.3 L501.1,331.0 L502.1,330.6 L503.0,330.3 L503.9,329.9 L504.8,329.5 L505.6,329.0 L506.5,328.5 L507.4,328.0 L508.2,327.5 L509.0,327.0 L509.8,326.4 L510.6,325.9 L511.4,325.3 L512.2,324.7 L513.0,324.1 L513.8,323.5 L514.5,322.9 L515.3,322.2 L516.0,321.6 L516.8,321.0 L517.5,320.3 L518.3,319.7 L519.0,319.1 L519.8,318.4 L520.5,317.8 L521.3,317.1 L522.0,316.5 L522.7,315.8 L523.4,315.1 L524.1,314.4 L524.8,313.7 L525.5,313.0 L526.1,312.3 L526.8,311.6 L527.4,310.8 L528.1,310.1 L528.7,309.3 L529.3,308.5 L529.9,307.7 L530.5,307.0 L531.1,306.2 L531.7,305.4 L532.2,304.6 L532.8,303.8 L533.4,302.9 L533.9,302.1 L534.5,301.3 L535.0,300.5 L535.5,299.7 L536.1,298.9 L536.6,298.0 L537.1,297.2 L537.7,296.4 L538.2,295.5 L538.7,294.7 L539.2,293.9 L539.7,293.0 L540.2,292.2 L540.7,291.3 L541.2,290.5 L541.6,289.6 L542.1,288.8 L542.6,287.9 L543.1,287.0 L543.5,286.2 L544.0,285.3 L544.5,284.4 L544.9,283.6 L545.4,282.7 L545.8,281.8 L546.3,280.9 L546.7,280.1 L547.2,279.2 L547.6,278.3 L548.1,277.4 L548.5,276.6 L549.0,275.7 L549.4,274.8 L549.9,273.9 L550.3,273.1 L550.8,272.2 L551.2,271.3 L551.7,270.5 L552.1,269.6 L552.6,268.7 L553.0,267.8 L553.5,267.0 L554.0,266.1 L554.4,265.2 L554.9,264.4 L555.4,263.5 L555.8,262.7 L556.3,261.8 L556.8,260.9 L557.2,260.1 L557.7,259.2 L558.1,258.3 L558.6,257.5 L559.1,256.6 L559.5,255.7 L560.0,254.8 L560.4,254.0 L560.9,253.1 L561.3,252.2 L561.7,251.3 L562.2,250.5 L562.6,249.6 L563.0,248.7 L563.5,247.8 L563.9,246.9 L564.3,246.0 L564.7,245.1 L565.1,244.2 L565.5,243.4 L565.9,242.5 L566.3,241.6 L566.7,240.7 L567.1,239.8 L567.5,238.9 L567.9,238.0 L568.3,237.1 L568.7,236.2 L569.1,235.3 L569.5,234.4 L569.9,233.5 L570.3,232.6 L570.7,231.7 L571.0,230.7 L571.4,229.8 L571.8,228.9 L572.2,228.0 L572.6,227.1 L572.9,226.2 L573.3,225.3 L573.7,224.4 L574.0,223.5 L574.4,222.6 L574.8,221.7 L575.1,220.7 L575.5,219.8 L575.9,218.9 L576.2,218.0 L576.6,217.1 L577.0,216.2 L577.3,215.3 L577.7,214.4 L578.0,213.4 L578.4,212.5 L578.7,211.6 L579.1,210.7 L579.5,209.8 L579.8,208.9 L580.2,207.9 L580.5,207.0 L580.9,206.1 L581.2,205.2 L581.6,204.3 L581.9,203.4 L582.2,202.4 L582.6,201.5 L582.9,200.6 L583.3,199.7 L583.6,198.8 L584.0,197.8 L584.3,196.9 L584.6,196.0 L585.0,195.1 L585.3,194.1 L585.7,193.2 L586.0,192.3"/>
<path class="c i" stroke="#ff0000" stroke-dasharray="1.6 85.4" stroke-dashoffset="-50" d="M424.9,242.0 L425.0,243.0 L425.0,244.0 L425.1,244.9 L425.2,245.9 L425.3,246.9 L425.4,247.9 L425.6,248.8 L425.9,249.8 L426.2,250.7 L426.5,251.6 L426.9,252.5 L427.3,253.5 L427.7,254.4 L428.0,255.3 L428.4,256.2 L428.7,257.1 L429.1,258.0 L429.5,258.9 L429.9,259.8 L430.3,260.7 L430.7,261.6 L431.1,262.5 L431.5,263.4 L432.0,264.3 L432.4,265.1 L432.9,266.0 L433.3,266.9 L433.8,267.8 L434.2,268.6 L434.7,269.5 L435.1,270.4 L435.6,271.3 L436.0,272.1 L436.4,273.0 L436.9,273.9 L437.3,274.8 L437.7,275.7 L438.1,276.6 L438.5,277.5 L438.9,278.4 L439.3,279.3 L439.7,280.2 L440.2,281.1 L440.6,282.0 L441.0,282.8 L441.4,283.7 L441.8,284.6 L442.3,285.5 L442.7,286.4 L443.1,287.2 L443.6,288.1 L444.1,289.0 L444.5,289.8 L445.0,290.7 L445.5,291.5 L446.0,292.4 L446.5,293.2 L447.0,294.1 L447.5,294.9 L448.1,295.7 L448.6,296.6 L449.1,297.4 L449.7,298.2 L450.2,299.0 L450.8,299.8 L451.3,300.7 L451.9,301.5 L452.4,302.3 L453.0,303.1 L453.5,303.9 L454.1,304.7 L454.6,305.5 L455.2,306.4 L455.8,307.2 L456.3,307.9 L456.9,308.7 L457.5,309.5 L458.1,310.3 L458.7,311.1 L459.3,311.8 L459.9,312.6 L460.6,313.4 L461.2,314.1 L461.8,314.8 L462.5,315.6 L463.1,316.3 L463.8,317.0 L464.5,317.8 L465.2,318.5 L465.8,319.2 L466.5,319.9 L467.2,320.6 L467.9,321.3 L468.6,322.0 L469.3,322.7 L470.0,323.4 L470.7,324.1 L471.5,324.7 L472.2,325.3 L473.0,325.9 L473.8,326.5 L474.6,327.1 L475.4,327.6 L476.3,328.1 L477.2,328.5 L478.1,328.9 L479.0,329.3 L479.9,329.7 L480.8,330.0 L481.7,330.4 L482.7,330.7 L483.6,330.9 L484.6,331.2 L485.6,331.4 L486.5,331.6 L487.5,331.8 L488.5,331.9 L489.4,332.0 L490.4,332.1 L491.4,332.2 L492.4,332.2 L493.4,332.2 L494.4,332.2 L495.3,332.1 L496.3,332.0 L497.3,331.9 L498.3,331.7 L499.2,331.5 L500.2,331.3 L501.1,331.0 L502.1,330.6 L503.0,330.3 L503.9,329.9 L504.8,329.5 L505.6,329.0 L506.5,328.5 L507.4,328.0 L508.2,327.5 L509.0,327.0 L509.8,326.4 L510.6,325.9 L511.4,325.3 L512.2,324.7 L513.0,324.1 L513.8,323.5 L514.5,322.9 L515.3,322.2 L516.0,321.6 L516.8,321.0 L517.5,320.3 L518.3,319.7 L519.0,319.1 L519.8,318.4 L520.5,317.8 L521.3,317.1 L522.0,316.5 L522.7,315.8 L523.4,315.1 L524.1,314.4 L524.8,313.7 L525.5,313.0 L526.1,312.3 L526.8,311.6 L527.4,310.8 L528.1,310.1 L528.7,309.3 L529.3,308.5 L529.9,307.7 L530.5,307.0 L531.1,306.2 L531.7,305.4 L532.2,304.6 L532.8,303.8 L533.4,302.9 L533.9,302.1 L534.5,301.3 L535.0,300.5 L535.5,299.7 L536.1,298.9 L536.6,298.0 L537.1,297.2 L537.7,296.4 L538.2,295.5 L538.7,294.7 L539.2,293.9 L539.7,293.0 L540.2,292.2 L540.7,291.3 L541.2,290.5 L541.6,289.6 L542.1,288.8 L542.6,287.9 L543.1,287.0 L543.5,286.2 L544.0,285.3 L544.5,284.4 L544.9,283.6 L545.4,282.7 L545.8,281.8 L546.3,280.9 L546.7,280.1 L547.2,279.2 L547.6,278.3 L548.1,277.4 L548.5,276.6 L549.0,275.7 L549.4,274.8 L549.9,273.9 L550.3,273.1 L550.8,272.2 L551.2,271.3 L551.7,270.5 L552.1,269.6 L552.6,268.7 L553.0,267.8 L553.5,267.0 L554.0,266.1 L554.4,265.2 L554.9,264.4 L555.4,263.5 L555.8,262.7 L556.3,261.8 L556.8,260.9 L557.2,260.1 L557.7,259.2 L558.1,258.3 L558.6,257.5 L559.1,256.6 L559.5,255.7 L560.0,254.8 L560.4,254.0 L560.9,253.1 L561.3,252.2 L561.7,251.3 L562.2,250.5 L562.6,249.6 L563.0,248.7 L563.5,247.8 L563.9,246.9 L564.3,246.0 L564.7,245.1 L565.1,244.2 L565.5,243.4 L565.9,242.5 L566.3,241.6 L566.7,240.7 L567.1,239.8 L567.5,238.9 L567.9,238.0 L568.3,237.1 L568.7,236.2 L569.1,235.3 L569.5,234.4 L569.9,233.5 L570.3,232.6 L570.7,231.7 L571.0,230.7 L571.4,229.8 L571.8,228.9 L572.2,228.0 L572.6,227.1 L572.9,226.2 L573.3,225.3 L573.7,224.4 L574.0,223.5 L574.4,222.6 L574.8,221.7 L575.1,220.7 L575.5,219.8 L575.9,218.9 L576.2,218.0 L576.6,217.1 L577.0,216.2 L577.3,215.3 L577.7,214.4 L578.0,213.4 L578.4,212.5 L578.7,211.6 L579.1,210.7 L579.5,209.8 L579.8,208.9 L580.2,207.9 L580.5,207.0 L580.9,206.1 L581.2,205.2 L581.6,204.3 L581.9,203.4 L582.2,202.4 L582.6,201.5 L582.9,200.6 L583.3,199.7 L583.6,198.8 L584.0,197.8 L584.3,196.9 L584.6,196.0 L585.0,195.1 L585.3,194.1 L585.7,193.2 L586.0,192.3"/>
<path class="c i" stroke="#9400d3" stroke-dasharray="13.6 6.9 9.2 4.8 9.2 5.3 9.5 5 9.5 5 9.5 5" d="M424.9,242.0 L425.0,243.0 L425.0,244.0 L425.1,244.9 L425.2,245.9 L425.3,246.9 L425.4,247.9 L425.6,248.8 L425.9,249.8 L426.2,250.7 L426.5,251.6 L426.9,252.5 L427.3,253.5 L427.7,254.4 L428.0,255.3 L428.4,256.2 L428.7,257.1 L429.1,258.0 L429.5,258.9 L429.9,259.8 L430.3,260.7 L430.7,261.6 L431.1,262.5 L431.5,263.4 L432.0,264.3 L432.4,265.1 L432.9,266.0 L433.3,266.9 L433.8,267.8 L434.2,268.6 L434.7,269.5 L435.1,270.4 L435.6,271.3 L436.0,272.1 L436.4,273.0 L436.9,273.9 L437.3,274.8 L437.7,275.7 L438.1,276.6 L438.5,277.5 L438.9,278.4 L439.3,279.3 L439.7,280.2 L440.2,281.1 L440.6,282.0 L441.0,282.8 L441.4,283.7 L441.8,284.6 L442.3,285.5 L442.7,286.4 L443.1,287.2 L443.6,288.1 L444.1,289.0 L444.5,289.8 L445.0,290.7 L445.5,291.5 L446.0,292.4 L446.5,293.2 L447.0,294.1 L447.5,294.9 L448.1,295.7 L448.6,296.6 L449.1,297.4 L449.7,298.2 L450.2,299.0 L450.8,299.8 L451.3,300.7 L451.9,301.5 L452.4,302.3 L453.0,303.1 L453.5,303.9 L454.1,304.7 L454.6,305.5 L455.2,306.4 L455.8,307.2 L456.3,307.9 L456.9,308.7 L457.5,309.5 L458.1,310.3 L458.7,311.1 L459.3,311.8 L459.9,312.6 L460.6,313.4 L461.2,314.1 L461.8,314.8 L462.5,315.6 L463.1,316.3 L463.8,317.0 L464.5,317.8 L465.2,318.5 L465.8,319.2 L466.5,319.9 L467.2,320.6 L467.9,321.3 L468.6,322.0 L469.3,322.7 L470.0,323.4 L470.7,324.1 L471.5,324.7 L472.2,325.3 L473.0,325.9 L473.8,326.5 L474.6,327.1 L475.4,327.6 L476.3,328.1 L477.2,328.5 L478.1,328.9 L479.0,329.3 L479.9,329.7 L480.8,330.0 L481.7,330.4 L482.7,330.7 L483.6,330.9 L484.6,331.2 L485.6,331.4 L486.5,331.6 L487.5,331.8 L488.5,331.9 L489.4,332.0 L490.4,332.1 L491.4,332.2 L492.4,332.2 L493.4,332.2 L494.4,332.2 L495.3,332.1 L496.3,332.0 L497.3,331.9 L498.3,331.7 L499.2,331.5 L500.2,331.3 L501.1,331.0 L502.1,330.6 L503.0,330.3 L503.9,329.9 L504.8,329.5 L505.6,329.0 L506.5,328.5 L507.4,328.0 L508.2,327.5 L509.0,327.0 L509.8,326.4 L510.6,325.9 L511.4,325.3 L512.2,324.7 L513.0,324.1 L513.8,323.5 L514.5,322.9 L515.3,322.2 L516.0,321.6 L516.8,321.0 L517.5,320.3 L518.3,319.7 L519.0,319.1 L519.8,318.4 L520.5,317.8 L521.3,317.1 L522.0,316.5 L522.7,315.8 L523.4,315.1 L524.1,314.4 L524.8,313.7 L525.5,313.0 L526.1,312.3 L526.8,311.6 L527.4,310.8 L528.1,310.1 L528.7,309.3 L529.3,308.5 L529.9,307.7 L530.5,307.0 L531.1,306.2 L531.7,305.4 L532.2,304.6 L532.8,303.8 L533.4,302.9 L533.9,302.1 L534.5,301.3 L535.0,300.5 L535.5,299.7 L536.1,298.9 L536.6,298.0 L537.1,297.2 L537.7,296.4 L538.2,295.5 L538.7,294.7 L539.2,293.9 L539.7,293.0 L540.2,292.2 L540.7,291.3 L541.2,290.5 L541.6,289.6 L542.1,288.8 L542.6,287.9 L543.1,287.0 L543.5,286.2 L544.0,285.3 L544.5,284.4 L544.9,283.6 L545.4,282.7 L545.8,281.8 L546.3,280.9 L546.7,280.1 L547.2,279.2 L547.6,278.3 L548.1,277.4 L548.5,276.6 L549.0,275.7 L549.4,274.8 L549.9,273.9 L550.3,273.1 L550.8,272.2 L551.2,271.3 L551.7,270.5 L552.1,269.6 L552.6,268.7 L553.0,267.8 L553.5,267.0 L554.0,266.1 L554.4,265.2 L554.9,264.4 L555.4,263.5 L555.8,262.7 L556.3,261.8 L556.8,260.9 L557.2,260.1 L557.7,259.2 L558.1,258.3 L558.6,257.5 L559.1,256.6 L559.5,255.7 L560.0,254.8 L560.4,254.0 L560.9,253.1 L561.3,252.2 L561.7,251.3 L562.2,250.5 L562.6,249.6 L563.0,248.7 L563.5,247.8 L563.9,246.9 L564.3,246.0 L564.7,245.1 L565.1,244.2 L565.5,243.4 L565.9,242.5 L566.3,241.6 L566.7,240.7 L567.1,239.8 L567.5,238.9 L567.9,238.0 L568.3,237.1 L568.7,236.2 L569.1,235.3 L569.5,234.4 L569.9,233.5 L570.3,232.6 L570.7,231.7 L571.0,230.7 L571.4,229.8 L571.8,228.9 L572.2,228.0 L572.6,227.1 L572.9,226.2 L573.3,225.3 L573.7,224.4 L574.0,223.5 L574.4,222.6 L574.8,221.7 L575.1,220.7 L575.5,219.8 L575.9,218.9 L576.2,218.0 L576.6,217.1 L577.0,216.2 L577.3,215.3 L577.7,214.4 L578.0,213.4 L578.4,212.5 L578.7,211.6 L579.1,210.7 L579.5,209.8 L579.8,208.9 L580.2,207.9 L580.5,207.0 L580.9,206.1 L581.2,205.2 L581.6,204.3 L581.9,203.4 L582.2,202.4 L582.6,201.5 L582.9,200.6 L583.3,199.7 L583.6,198.8 L584.0,197.8 L584.3,196.9 L584.6,196.0 L585.0,195.1 L585.3,194.1 L585.7,193.2 L586.0,192.3"/>
</g>
<!-- frames and ticks -->
<g fill="none" stroke="#000" stroke-width="1.3">
<rect x="76.1" y="9.1" width="575.5" height="405.0"/>
<rect x="423.6" y="182.8" width="202.8" height="156.0"/>
<path d="M150.36,414.10 L150.36,402.60 M150.36,9.10 L150.36,20.60 M243.18,414.10 L243.18,402.60 M243.18,9.10 L243.18,20.60 M336.00,414.10 L336.00,402.60 M336.00,9.10 L336.00,20.60 M428.83,414.10 L428.83,402.60 M428.83,9.10 L428.83,20.60 M521.65,414.10 L521.65,402.60 M521.65,9.10 L521.65,20.60 M614.47,414.10 L614.47,402.60 M614.47,9.10 L614.47,20.60 M103.95,414.10 L103.95,408.40 M103.95,9.10 L103.95,14.80 M196.77,414.10 L196.77,408.40 M196.77,9.10 L196.77,14.80 M289.59,414.10 L289.59,408.40 M289.59,9.10 L289.59,14.80 M382.41,414.10 L382.41,408.40 M382.41,9.10 L382.41,14.80 M475.24,414.10 L475.24,408.40 M475.24,9.10 L475.24,14.80 M568.06,414.10 L568.06,408.40 M568.06,9.10 L568.06,14.80 M76.10,144.10 L87.60,144.10 M651.60,144.10 L640.10,144.10 M76.10,279.10 L87.60,279.10 M651.60,279.10 L640.10,279.10 M76.10,76.60 L81.80,76.60 M651.60,76.60 L645.90,76.60 M76.10,211.60 L81.80,211.60 M651.60,211.60 L645.90,211.60 M76.10,346.60 L81.80,346.60 M651.60,346.60 L645.90,346.60 M474.30,338.80 L474.30,327.30 M474.30,182.80 L474.30,194.30 M525.00,338.80 L525.00,327.30 M525.00,182.80 L525.00,194.30 M575.70,338.80 L575.70,327.30 M575.70,182.80 L575.70,194.30 M448.95,338.80 L448.95,333.10 M448.95,182.80 L448.95,188.50 M499.65,338.80 L499.65,333.10 M499.65,182.80 L499.65,188.50 M550.35,338.80 L550.35,333.10 M550.35,182.80 L550.35,188.50 M601.05,338.80 L601.05,333.10 M601.05,182.80 L601.05,188.50 M423.60,202.30 L435.10,202.30 M626.40,202.30 L614.90,202.30 M423.60,251.05 L435.10,251.05 M626.40,251.05 L614.90,251.05 M423.60,299.80 L435.10,299.80 M626.40,299.80 L614.90,299.80 M423.60,226.68 L429.30,226.68 M626.40,226.68 L620.70,226.68 M423.60,275.43 L429.30,275.43 M626.40,275.43 L620.70,275.43 M423.60,324.18 L429.30,324.18 M626.40,324.18 L620.70,324.18"/>
</g>
<!-- legend lines -->
<g class="c">
<path stroke="#000" stroke-width="2" d="M169.8,226.5 H192.6"/>
<path stroke="#ff0000" stroke-dasharray="2.7 7.7" d="M170,257.8 H240"/>
<path stroke="#00ff00" stroke-dasharray="13.1 7.7" d="M170,286.7 H240"/>
<path stroke="#0000ff" stroke-dasharray="2.7 7.7 13.1 7.7" d="M170,316.1 H240"/>
<path stroke="#9400d3" stroke-dasharray="2.7 7.7 13.1 7.7 2.7 7.7" d="M170,345 H240"/>
</g>
<g style="filter:grayscale(1)">
<text transform="translate(71.2,16.4) scale(1,1.06)" text-anchor="end">0.02</text>
<text transform="translate(71.2,151.4) scale(1,1.06)" text-anchor="end">0</text>
<text transform="translate(71.2,286.4) scale(1,1.06)" text-anchor="end">-0.02</text>
<text transform="translate(71.2,421.4) scale(1,1.06)" text-anchor="end">-0.04</text>
<text transform="translate(150.6,434.7) scale(1,1.06)" text-anchor="middle">0.05</text>
<text transform="translate(243.4,434.7) scale(1,1.06)" text-anchor="middle">0.1</text>
<text transform="translate(336.2,434.7) scale(1,1.06)" text-anchor="middle">0.15</text>
<text transform="translate(429.0,434.7) scale(1,1.06)" text-anchor="middle">0.2</text>
<text transform="translate(521.8,434.7) scale(1,1.06)" text-anchor="middle">0.25</text>
<text transform="translate(614.7,434.7) scale(1,1.06)" text-anchor="middle">0.3</text>
<text transform="translate(419.4,209.8) scale(1,1.06)" text-anchor="end">5</text>
<text transform="translate(419.4,258.6) scale(1,1.06)" text-anchor="end">0</text>
<text transform="translate(419.4,307.3) scale(1,1.06)" text-anchor="end">-5</text>
<text transform="translate(423.8,359.2) scale(1,1.06)" text-anchor="middle">0</text>
<text transform="translate(474.5,359.2) scale(1,1.06)" text-anchor="middle">0.1</text>
<text transform="translate(525.2,359.2) scale(1,1.06)" text-anchor="middle">0.2</text>
<text transform="translate(575.9,359.2) scale(1,1.06)" text-anchor="middle">0.3</text>
<text transform="translate(626.6,359.2) scale(1,1.06)" text-anchor="middle">0,4</text>
<text transform="translate(204.6,232.2) scale(1,1.06)" text-anchor="start">SLy5</text>
<text transform="translate(257.0,270.1) scale(1,1.05)" text-anchor="start" letter-spacing="-0.2">Λ = 0.5 fm<tspan font-size="15.4" dy="-12.3">-1</tspan></text>
<text transform="translate(257.0,298.9) scale(1,1.05)" text-anchor="start" letter-spacing="-0.2">Λ&#160; = 1.0 fm<tspan font-size="15.4" dy="-12.3">-1</tspan></text>
<text transform="translate(257.0,327.6) scale(1,1.05)" text-anchor="start" letter-spacing="-0.2">Λ = 1.5 fm<tspan font-size="15.4" dy="-12.3">-1</tspan></text>
<text transform="translate(257.0,356.2) scale(1,1.05)" text-anchor="start" letter-spacing="-0.2">Λ = 2.0 fm<tspan font-size="15.4" dy="-12.3">-1</tspan></text>
<text x="333.2" y="463.2" text-anchor="start">ρ<tspan dx="0.8"> (fm</tspan><tspan font-size="15.4" dy="-12.0">-3</tspan><tspan dy="12.0">)</tspan></text>
<text x="494.4" y="389.8" text-anchor="start">ρ(fm<tspan font-size="15.4" dy="-12.0">-3</tspan><tspan dy="12.0">)</tspan></text>
<text transform="translate(17.0,208.6) rotate(-90)" text-anchor="middle" word-spacing="2.6"><tspan font-size="23.5">δ</tspan> E/A (MeV)</text>
<text transform="translate(392.2,260.3) rotate(-90)" text-anchor="middle">E/A (MeV)</text>
</g>
</svg>
</body></html>
